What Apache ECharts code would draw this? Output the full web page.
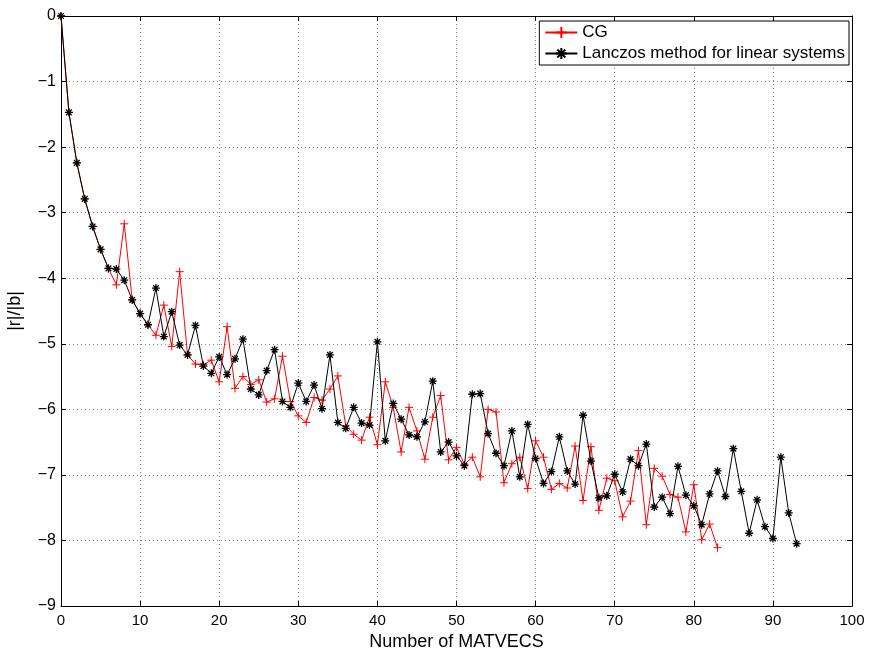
<!DOCTYPE html>
<html><head><meta charset="utf-8">
<script src="https://cdn.jsdelivr.net/npm/echarts@6/dist/echarts.min.js"></script>
<style>html,body{margin:0;padding:0;background:#fff}#c{width:869px;height:651px}</style>
</head><body><div id="c"></div>
<script>
const xTicks = [0,10,20,30,40,50,60,70,80,90,100];
const yTicks = [-9,-8,-7,-6,-5,-4,-3,-2,-1,0];
const cgValues = [0,-1.47,-2.24,-2.79,-3.21,-3.56,-3.85,-4.10,-3.17,-4.33,
  -4.54,-4.71,-4.87,-4.41,-5.04,-3.90,-5.17,-5.31,-5.32,-5.25,
  -5.58,-4.74,-5.68,-5.50,-5.62,-5.55,-5.89,-5.84,-5.19,-5.88,
  -6.10,-6.20,-5.82,-5.86,-5.69,-5.49,-6.25,-6.38,-6.47,-6.12,
  -6.54,-5.58,-5.97,-6.65,-5.97,-6.33,-6.76,-6.12,-5.79,-6.77,
  -6.58,-6.84,-6.73,-7.03,-6.00,-6.04,-7.12,-6.83,-6.73,-7.21,
  -6.48,-6.73,-7.22,-7.13,-7.20,-6.56,-7.39,-6.57,-7.54,-7.05,
  -7.09,-7.64,-7.40,-6.63,-7.76,-6.90,-7.02,-7.30,-7.34,-7.87,
  -7.15,-7.99,-7.75,-8.11];
const lanczosValues = [0,-1.47,-2.24,-2.79,-3.21,-3.56,-3.85,-3.86,-4.03,-4.33,
  -4.54,-4.71,-4.15,-4.89,-4.51,-5.02,-5.17,-4.72,-5.34,-5.45,
  -5.20,-5.47,-5.23,-4.93,-5.69,-5.78,-5.41,-5.09,-5.88,-5.97,
  -5.60,-5.88,-5.63,-5.99,-5.17,-6.20,-6.29,-5.97,-6.21,-6.24,
  -4.97,-6.48,-5.91,-6.15,-6.39,-6.42,-6.19,-5.57,-6.65,-6.50,
  -6.71,-6.86,-5.77,-5.76,-6.37,-6.67,-6.86,-6.33,-7.03,-6.23,
  -6.75,-7.13,-6.95,-6.42,-6.94,-7.14,-6.09,-6.79,-7.35,-7.32,
  -6.99,-7.26,-6.76,-6.86,-6.53,-7.49,-7.34,-7.59,-6.87,-7.31,
  -7.47,-7.76,-7.29,-6.94,-7.33,-6.60,-7.25,-7.89,-7.38,-7.79,
  -7.97,-6.73,-7.58,-8.05];
const seriesNames = ['CG','Lanczos method for linear systems'];

const FONT = 'Liberation Sans';
const minus = v => v < 0 ? '\u2212' + (-v) : String(v);
const plusPath = 'path://M0,-1L0,1M-1,0L1,0';
const starPath = 'path://M0,-1L0,1M-1,0L1,0M-0.71,-0.71L0.71,0.71M-0.71,0.71L0.71,-0.71';
const toPairs = arr => arr.map((v,i)=>[i,v]);

const chart = echarts.init(document.getElementById('c'), null, {renderer:'canvas'});
const axisLine = {show:true, onZero:false, lineStyle:{color:'#000', width:1}};
chart.setOption({
  animation:false,
  backgroundColor:'#fff',
  textStyle:{fontFamily:FONT},
  grid:{left:61, right:17, top:16, bottom:45, containLabel:false, outerBoundsMode:'none'},
  legend:{
    data:seriesNames.map(n=>({name:n})),
    orient:'vertical', right:20, top:21,
    backgroundColor:'#fff', borderColor:'#000', borderWidth:1,
    padding:[3,4,3,5], itemGap:4, itemWidth:32, itemHeight:14,
    textStyle:{fontFamily:FONT, fontSize:17, color:'#000'}
  },
  xAxis:[{
    type:'value', min:0, max:100, interval:10,
    name:'Number of MATVECS', nameLocation:'middle', nameGap:22,
    nameTextStyle:{fontFamily:FONT, fontSize:18, color:'#000'},
    axisLine, axisTick:{show:true, inside:true, length:5, lineStyle:{color:'#000'}},
    axisLabel:{fontFamily:FONT, fontSize:15, color:'#000', margin:7},
    splitLine:{show:true, lineStyle:{color:'#888', type:[1,3], width:1}}
  },{
    type:'value', min:0, max:100, interval:10, position:'top',
    axisLine, axisTick:{show:true, inside:true, length:5, lineStyle:{color:'#000'}},
    axisLabel:{show:false}, splitLine:{show:false}
  }],
  yAxis:[{
    type:'value', min:-9, max:0, interval:1,
    name:'|r|/|b|', nameLocation:'middle', nameGap:37, nameRotate:90,
    nameTextStyle:{fontFamily:FONT, fontSize:18, color:'#000'},
    axisLine, axisTick:{show:true, inside:true, length:5, lineStyle:{color:'#000'}},
    axisLabel:{fontFamily:FONT, fontSize:16, color:'#000', margin:5, formatter:minus},
    splitLine:{show:true, lineStyle:{color:'#888', type:[1,3], width:1}}
  },{
    type:'value', min:-9, max:0, interval:1, position:'right',
    axisLine, axisTick:{show:true, inside:true, length:5, lineStyle:{color:'#000'}},
    axisLabel:{show:false}, splitLine:{show:false}
  }],
  series:[{
    name:seriesNames[0], type:'line', data:toPairs(cgValues), z:3,
    symbol:plusPath, symbolSize:8, showAllSymbol:true,
    lineStyle:{color:'#ff0000', width:1},
    itemStyle:{color:'#ff0000', borderColor:'#ff0000', borderWidth:1}
  },{
    name:seriesNames[1], type:'line', data:toPairs(lanczosValues), z:4,
    symbol:starPath, symbolSize:8, showAllSymbol:true,
    lineStyle:{color:'#000', width:1},
    itemStyle:{color:'#000', borderColor:'#000', borderWidth:1.3}
  }]
});
</script></body></html>
